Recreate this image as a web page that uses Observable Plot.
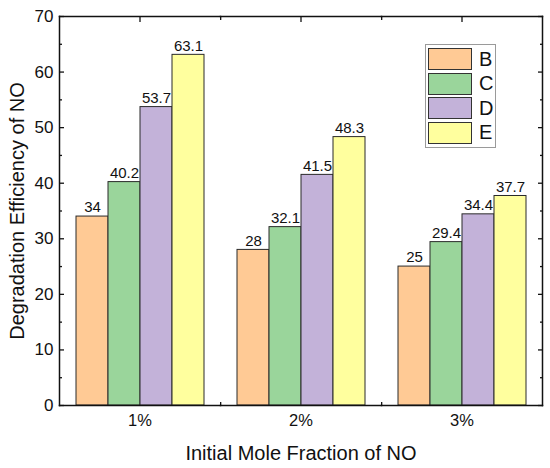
<!DOCTYPE html>
<html>
<head>
<meta charset="utf-8">
<script src="https://cdn.jsdelivr.net/npm/d3@7"></script>
<script src="https://cdn.jsdelivr.net/npm/@observablehq/plot@0.6"></script>
<style>
  body { margin: 0; background: #fff; }
  #wrap { position: relative; width: 550px; height: 468px; font-family: "Liberation Sans", Arial, sans-serif; }
  #legend { position: absolute; left: 425px; top: 44px; width: 71px; border: 1px solid #9a9a9a; background: #fff; padding: 2px 0 2px 2px; box-sizing: border-box; }
  .row { display: flex; align-items: center; height: 24.5px; }
  .sw { width: 44px; height: 22px; border: 1px solid #333; box-sizing: border-box; }
  .lab { margin-left: 7px; font-size: 20px; color: #111; }
</style>
</head>
<body>
<div id="wrap"></div>
<script>
const groups = ["1%", "2%", "3%"];
const series = ["B", "C", "D", "E"];
const valuesB = [34, 28, 25];
const valuesC = [40.2, 32.1, 29.4];
const valuesD = [53.7, 41.5, 34.4];
const valuesE = [63.1, 48.3, 37.7];
const colors = ["#FFCA95", "#9AD59B", "#C3B2D9", "#FFFF9E"];
const yTicks = [0, 10, 20, 30, 40, 50, 60, 70];
const yMinor = [5, 15, 25, 35, 45, 55, 65];

const seriesValues = [valuesB, valuesC, valuesD, valuesE];
const data = groups.flatMap((g, i) => series.map((s, j) => ({g, s, v: seriesValues[j][i]})));

const W = 550, ML = 58, MR = 8;
const halfFacet = (W - ML - MR) / groups.length / 2;
const MAJ = 5, MIN = 3;
const tk = {fill: "none", label: null, strokeWidth: 1.3, stroke: "#111"};

const chart = Plot.plot({
  width: W, height: 468,
  marginLeft: ML, marginRight: MR, marginTop: 16, marginBottom: 63,
  style: {fontFamily: "'Liberation Sans', Arial, sans-serif", background: "white", color: "#111"},
  fx: {domain: groups, padding: 0, label: null},
  x: {domain: series, paddingInner: 0, paddingOuter: 0.5, axis: null},
  y: {domain: [0, 70], label: null},
  color: {domain: series, range: colors},
  marks: [
    Plot.barY(data, {fx: "g", x: "s", y: "v", fill: "s", stroke: "#2a2a2a", strokeWidth: 1}),
    Plot.text(data, {fx: "g", x: "s", y: "v", text: d => String(d.v), dy: -9, fontSize: 15, fill: "#111"}),
    Plot.frame({anchor: "top", strokeWidth: 1.5}),
    Plot.frame({anchor: "bottom", strokeWidth: 1.5}),
    Plot.frame({anchor: "left", facetAnchor: "left", strokeWidth: 1.5}),
    Plot.frame({anchor: "right", facetAnchor: "right", strokeWidth: 1.5}),
    Plot.axisY({anchor: "left", ticks: yTicks, tickSize: 0, tickPadding: 6, fontSize: 17, label: null}),
    Plot.axisY({anchor: "left", ticks: yTicks, tickSize: MAJ, dx: MAJ, ...tk}),
    Plot.axisY({anchor: "left", ticks: yMinor, tickSize: MIN, dx: MIN, ...tk}),
    Plot.axisY({anchor: "right", ticks: yTicks, tickSize: MAJ, dx: -MAJ, ...tk}),
    Plot.axisY({anchor: "right", ticks: yMinor, tickSize: MIN, dx: -MIN, ...tk}),
    Plot.axisY({anchor: "left", ticks: [], tickSize: 0, text: null, label: "Degradation Efficiency of NO", labelArrow: "none", labelAnchor: "center", labelOffset: 50, fontSize: 20}),
    Plot.axisFx({anchor: "bottom", tickSize: 0, tickPadding: 9, fontSize: 16.5, label: null}),
    Plot.axisFx({anchor: "bottom", ticks: [], tickSize: 0, text: null, label: "Initial Mole Fraction of NO", labelArrow: "none", labelAnchor: "center", labelOffset: 54, fontSize: 20}),
    Plot.axisFx({anchor: "top", tickSize: MAJ, dy: MAJ, ...tk}),
    Plot.axisFx({anchor: "top", ticks: groups.slice(0, -1), dx: halfFacet, dy: MIN, tickSize: MIN, ...tk}),
    Plot.axisFx({anchor: "bottom", ticks: groups.slice(0, -1), dx: halfFacet, dy: -MIN, tickSize: MIN, ...tk})
  ]
});

const wrap = document.getElementById("wrap");
wrap.appendChild(chart);

const legend = document.createElement("div");
legend.id = "legend";
series.forEach((s, i) => {
  const row = document.createElement("div");
  row.className = "row";
  const sw = document.createElement("div");
  sw.className = "sw";
  sw.style.background = colors[i];
  const lab = document.createElement("span");
  lab.className = "lab";
  lab.textContent = s;
  row.appendChild(sw);
  row.appendChild(lab);
  legend.appendChild(row);
});
wrap.appendChild(legend);
</script>
</body>
</html>
